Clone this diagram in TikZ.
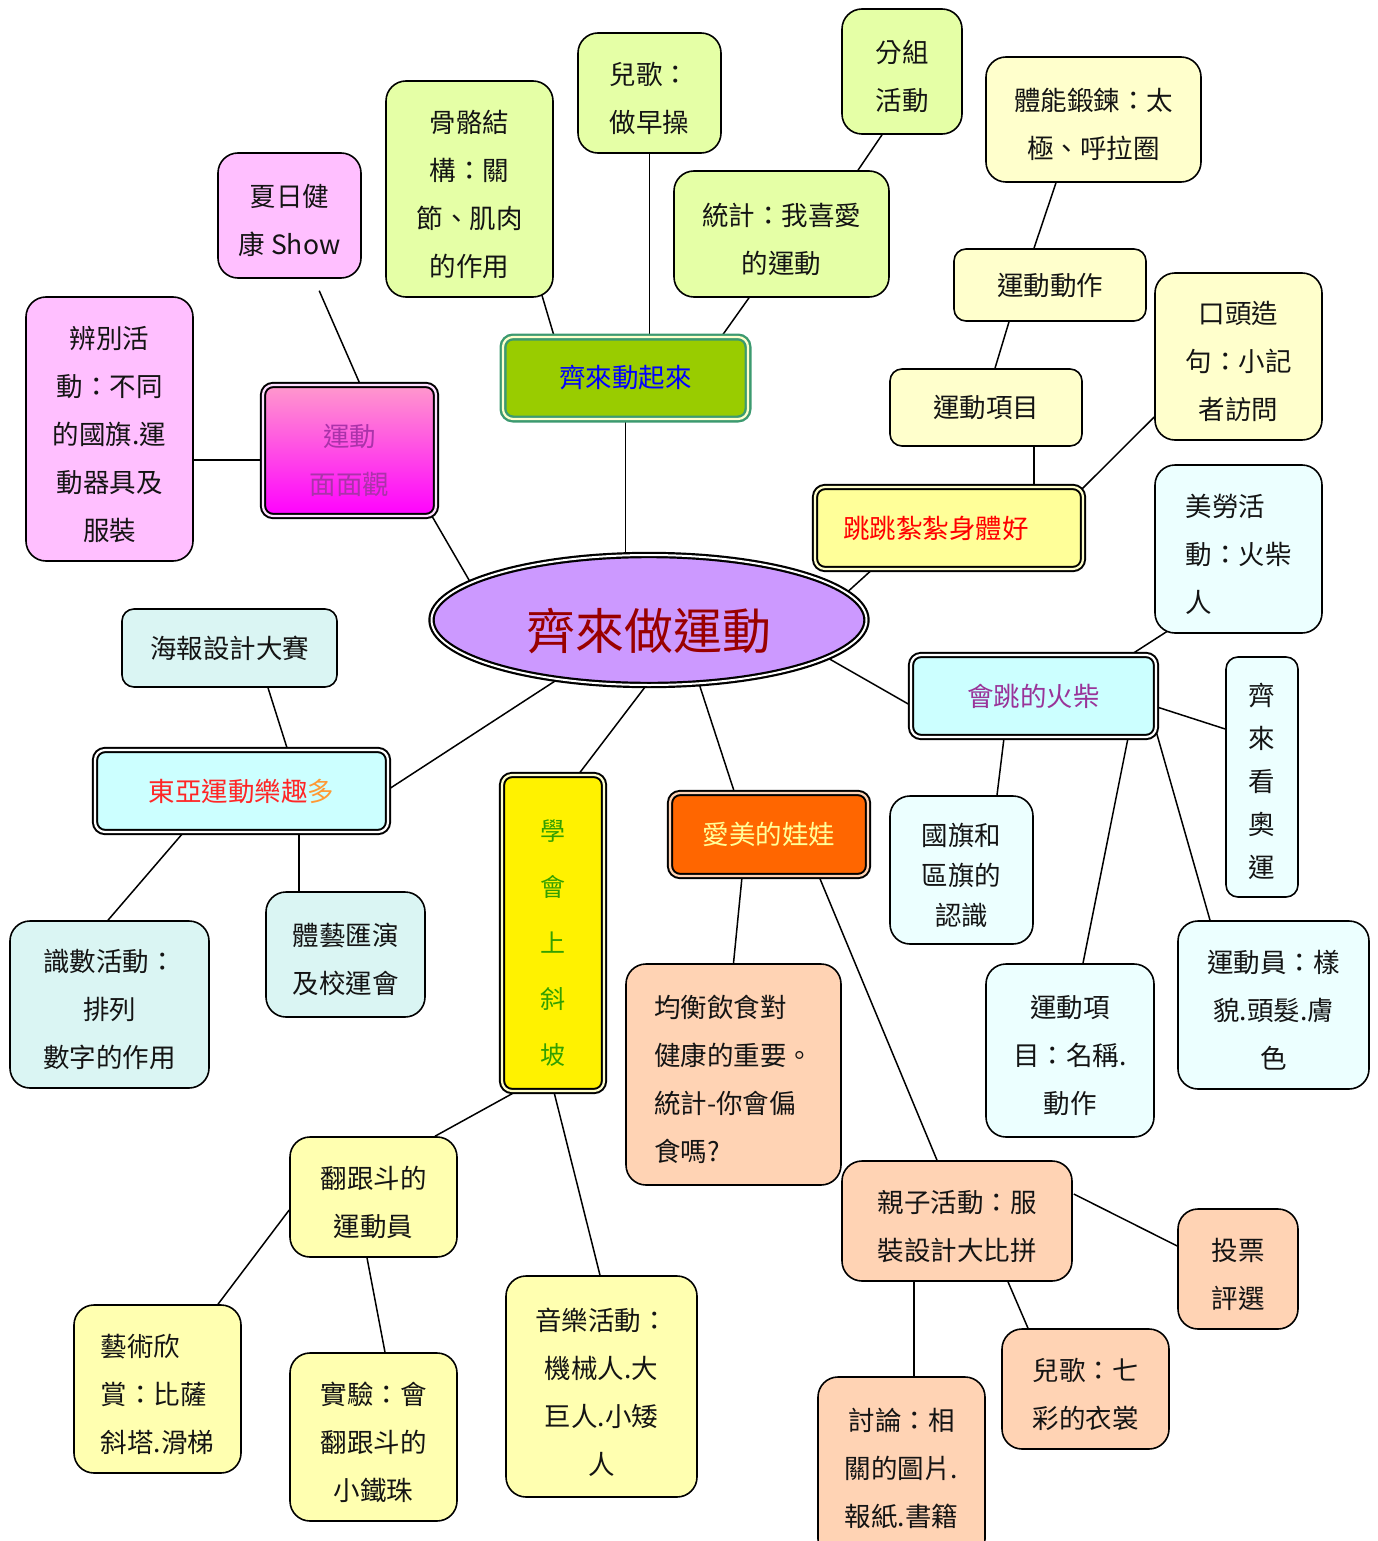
\documentclass[tikz,border=0pt]{standalone}
\usepackage{fontspec}
\setmainfont{Noto Sans CJK TC}
\usetikzlibrary{shapes.geometric,calc,backgrounds}
\definecolor{cGreen}{HTML}{E5FFA6}
\definecolor{cYel}{HTML}{FFFFCC}
\definecolor{cCyan}{HTML}{ECFFFF}
\definecolor{cPeach}{HTML}{FFD3B4}
\definecolor{cTeal}{HTML}{DAF5F3}
\definecolor{cYel2}{HTML}{FFFFB0}
\definecolor{cPink}{HTML}{FFBFFF}
\definecolor{cRoot}{HTML}{CC99FF}
\definecolor{cRootTxt}{HTML}{990000}
\definecolor{cQd}{HTML}{99CC00}
\definecolor{cQdLine}{HTML}{3C9A70}
\definecolor{cPurple}{HTML}{993399}
\definecolor{cMmTxt}{HTML}{AA33AA}
\definecolor{cOrangeFill}{HTML}{FF6600}
\definecolor{cLtYel}{HTML}{FFFF99}
\definecolor{cBoxCyan}{HTML}{CCFFFF}
\definecolor{cGreenTxt}{HTML}{33A000}
\definecolor{cOrangeTxt}{HTML}{FF9933}
\definecolor{cMmTop}{HTML}{FF99CC}
\newcommand\mystrut[1][33pt]{\rule{0pt}{#1}}
\tikzset{
  leaf/.style={draw=black, line width=1.6pt, rounded corners=20pt, inner sep=0pt,
    align=center, text=black!92, font=\fontsize{26.5}{48}\selectfont},
  mainbox/.style={draw=black, double=white, double distance=2.2pt, line width=2pt,
    rounded corners=10pt, inner sep=0pt, align=center, font=\fontsize{26.5}{48}\selectfont},
  conn/.style={line width=1.5pt, black}
}
\begin{document}
\begin{tikzpicture}[x=1pt,y=-1pt]
\useasboundingbox (0,0) rectangle (1377,1541);

% root
\node[ellipse, draw=black, double=white, double distance=2pt, line width=2.2pt, fill=cRoot,
  minimum width=435pt, minimum height=130pt, inner sep=0pt, text=cRootTxt,
  font=\fontsize{49}{56}\selectfont] (root) at (649,620) {\raisebox{-11pt}[42pt][6pt]{齊來做運動}};

% main nodes
\node[mainbox, draw=cQdLine, double=cLtYel!50!white, line width=2.4pt, fill=cQd, text=blue,
  minimum width=245pt, minimum height=82pt] (qd) at (625.5,378) {齊來動起來};
\node[mainbox, top color=cMmTop, bottom color=magenta, double=cPink!50!white,
  text=cMmTxt, minimum width=173pt, minimum height=131pt] (mm) at (349.5,450.5) {\mystrut[43pt]運動\\面面觀};
\node[mainbox, fill=cLtYel, double=cYel, text=red,
  minimum width=268pt, minimum height=82pt] (tt) at (949,528) {跳跳紮紮身體好\hspace{26pt}};
\node[mainbox, fill=cBoxCyan, text=cPurple,
  minimum width=245pt, minimum height=82pt] (hc) at (1033.5,696) {會跳的火柴};
\node[mainbox, fill=cOrangeFill, double=cPeach, text=cLtYel,
  minimum width=198pt, minimum height=83pt] (am) at (769,834.5) {愛美的娃娃};
\node[mainbox, fill=yellow, double=cYel, text=cGreenTxt,
  font=\fontsize{25}{56}\selectfont,
  minimum width=102pt, minimum height=316pt] (xh) at (553,933) {\mystrut[40pt]學\\會\\上\\斜\\坡};
\node[mainbox, fill=cBoxCyan,
  minimum width=293pt, minimum height=82pt] (dy) at (241.5,791) {\textcolor{red!85!white}{東亞運動樂趣}\textcolor{cOrangeTxt}{多}};

% green leaves
\node[leaf, fill=cGreen, minimum width=167pt, minimum height=216pt] (gg) at (469.5,189) {\mystrut 骨骼結\\構：關\\節、肌肉\\的作用};
\node[leaf, fill=cGreen, minimum width=143pt, minimum height=120pt, align=left] (eg) at (649.5,93) {\mystrut 兒歌：\\做早操};
\node[leaf, fill=cGreen, minimum width=120pt, minimum height=125pt] (fz) at (902,71.5) {\mystrut 分組\\活動};
\node[leaf, fill=cGreen, minimum width=215pt, minimum height=126pt] (tj) at (781.5,234) {\mystrut 統計：我喜愛\\的運動};

% light yellow (top right)
\node[leaf, fill=cYel, minimum width=215pt, minimum height=125pt] (tn) at (1093.5,119.5) {\mystrut 體能鍛鍊：太\\極、呼拉圈};
\node[leaf, fill=cYel, rounded corners=12pt, minimum width=192pt, minimum height=72pt] (dz) at (1050,285) {運動動作};
\node[leaf, fill=cYel, rounded corners=12pt, minimum width=192pt, minimum height=77pt] (xm) at (986,407.5) {運動項目};
\node[leaf, fill=cYel, minimum width=167pt, minimum height=167pt] (kt) at (1238.5,356.5) {\mystrut 口頭造\\句：小記\\者訪問};

% cyan leaves
\node[leaf, fill=cCyan, minimum width=167pt, minimum height=168pt, align=left] (ml) at (1238.5,549) {\mystrut 美勞活\\動：火柴\\人};
\node[leaf, fill=cCyan, rounded corners=12pt, minimum width=72pt, minimum height=240pt,
  font=\fontsize{26.5}{43}\selectfont] (ay) at (1262,777) {\mystrut[31pt]齊\\來\\看\\奧\\運};
\node[leaf, fill=cCyan, minimum width=143pt, minimum height=148pt,
  font=\fontsize{26.5}{40}\selectfont] (gq) at (961.5,870) {\mystrut 國旗和\\區旗的\\認識};
\node[leaf, fill=cCyan, minimum width=168pt, minimum height=173pt] (mc) at (1070,1050.5) {\mystrut 運動項\\目：名稱.\\動作};
\node[leaf, fill=cCyan, minimum width=191pt, minimum height=168pt] (ydy) at (1273.5,1005) {\mystrut 運動員：樣\\貌.頭髮.膚\\色};

% peach leaves
\node[leaf, fill=cPeach, minimum width=215pt, minimum height=221pt, align=left] (jh) at (733.5,1074.5) {\mystrut 均衡飲食對\\健康的重要。\\統計-你會偏\\食嗎?};
\node[leaf, fill=cPeach, minimum width=230pt, minimum height=120pt] (qz) at (957,1221) {\mystrut 親子活動：服\\裝設計大比拼};
\node[leaf, fill=cPeach, minimum width=120pt, minimum height=120pt] (tp) at (1238,1269) {\mystrut 投票\\評選};
\node[leaf, fill=cPeach, minimum width=167pt, minimum height=120pt] (qc) at (1085.5,1389) {\mystrut 兒歌：七\\彩的衣裳};
\node[leaf, fill=cPeach, minimum width=167pt, minimum height=182pt] (tl) at (901.5,1468) {討論：相\\關的圖片.\\報紙.書籍};

% teal leaves (left)
\node[leaf, fill=cTeal, rounded corners=12pt, minimum width=215pt, minimum height=78pt] (hb) at (229.5,648) {海報設計大賽};
\node[leaf, fill=cTeal, minimum width=199pt, minimum height=167pt] (ss) at (109.5,1004.5) {\mystrut 識數活動：\\排列\\數字的作用};
\node[leaf, fill=cTeal, minimum width=159pt, minimum height=125pt] (ty) at (345.5,954.5) {\mystrut 體藝匯演\\及校運會};

% yellow leaves (bottom left)
\node[leaf, fill=cYel2, minimum width=167pt, minimum height=120pt] (fg) at (373.5,1197) {\mystrut 翻跟斗的\\運動員};
\node[leaf, fill=cYel2, minimum width=167pt, minimum height=168pt, align=left] (ys) at (157.5,1389) {\mystrut 藝術欣\\賞：比薩\\斜塔.滑梯};
\node[leaf, fill=cYel2, minimum width=167pt, minimum height=168pt] (sy) at (373.5,1437) {\mystrut 實驗：會\\翻跟斗的\\小鐵珠};
\node[leaf, fill=cYel2, minimum width=191pt, minimum height=221pt] (yy) at (601.5,1386.5) {\mystrut 音樂活動：\\機械人.大\\巨人.小矮\\人};

% pink leaves
\node[leaf, fill=cPink, minimum width=143pt, minimum height=125pt] (xr) at (289.5,215.5) {\mystrut 夏日健\\康 Show};
\node[leaf, fill=cPink, minimum width=167pt, minimum height=264pt] (bb) at (109.5,429) {\mystrut 辨別活\\動：不同\\的國旗.運\\動器具及\\服裝};

% connectors
\begin{scope}[on background layer]
\fill[white] (0,0) rectangle (1377,1541);
\draw[conn] (root.north -| qd.south) -- (qd.south);
\draw[conn] ($(qd.north)+(-71.5,0)$) -- ($(gg.south)+(72,-4)$);
\draw[conn] (qd.north -| eg.south) -- (eg.south);
\draw[conn] ($(qd.north)+(96.5,0)$) -- ($(tj.south)+(-32.5,0)$);
\draw[conn] ($(tj.north)+(76.5,0)$) -- ($(fz.south)+(-20,0)$);
\draw[conn] (root.168) -- ($(mm.south east)+(-8,-6)$);
\draw[conn, shorten >=13pt] ($(mm.north)+(10.5,0)$) -- ($(xr.south)+(24.5,0)$);
\draw[conn] ($(mm.west)+(0,9.5)$) -- ($(bb.east)+(0,31)$);
\draw[conn] (root.8) -- ($(tt.south)+(-74,-3)$);
\draw[conn] ($(tt.north)+(85,0)$) -- ($(xm.south)+(48,0)$);
\draw[conn] ($(xm.north)+(9,0)$) -- ($(dz.south)+(-41,0)$);
\draw[conn] ($(dz.north)+(-16,0)$) -- ($(tn.south)+(-37.5,0)$);
\draw[conn] ($(tt.north east)+(-3,4)$) -- ($(kt.west)+(0,60.5)$);
\draw[conn] (root.-12.5) -- ($(hc.west)+(0,9)$);
\draw[conn] ($(hc.north)+(98.5,0)$) -- ($(ml.south)+(-70.5,-3)$);
\draw[conn] ($(hc.east)+(0,11)$) -- ($(ay.west)+(0,-48)$);
\draw[conn] ($(hc.south)+(-29.5,0)$) -- ($(gq.north)+(35.5,0)$);
\draw[conn] ($(hc.south)+(94.5,0)$) -- ($(mc.north)+(13,0)$);
\draw[conn] ($(hc.south east)+(-1,-7)$) -- ($(ydy.north)+(-63.5,0)$);
\draw[conn] (root.-52) -- ($(am.north)+(-34,2)$);
\draw[conn] ($(am.south)+(-27,0)$) -- (jh.north);
\draw[conn] ($(am.south)+(49,-3)$) -- ($(qz.north)+(-20,0)$);
\draw[conn] ($(qz.east)+(1,-27)$) -- ($(tp.west)+(0,-23)$);
\draw[conn] ($(qz.south)+(51,0)$) -- ($(qc.north)+(-57.5,0)$);
\draw[conn] ($(qz.south)+(-43,0)$) -- ($(tl.north)+(12.5,0)$);
\draw[conn] ($(root.south)+(-1,-3)$) -- ($(xh.north)+(25,1)$);
\draw[conn] ($(xh.south)+(-36,-1)$) -- ($(fg.north)+(61.5,0)$);
\draw[conn] ($(xh.south)+(1,0)$) -- ($(yy.north)+(-1.5,0)$);
\draw[conn] ($(fg.west)+(0,13)$) -- ($(ys.north)+(60.5,0)$);
\draw[conn] ($(fg.south)+(-6.5,0)$) -- ($(sy.north)+(11.5,0)$);
\draw[conn] (root.213) -- ($(dy.east)+(0,-2)$);
\draw[conn] ($(hb.south)+(38.5,0)$) -- ($(dy.north)+(46.5,2)$);
\draw[conn] ($(dy.south)+(-58.5,0)$) -- ($(ss.north)+(-1.5,0)$);
\draw[conn] ($(dy.south)+(57.5,0)$) -- ($(ty.north)+(-46.5,0)$);
\end{scope}
\end{tikzpicture}
\end{document}
